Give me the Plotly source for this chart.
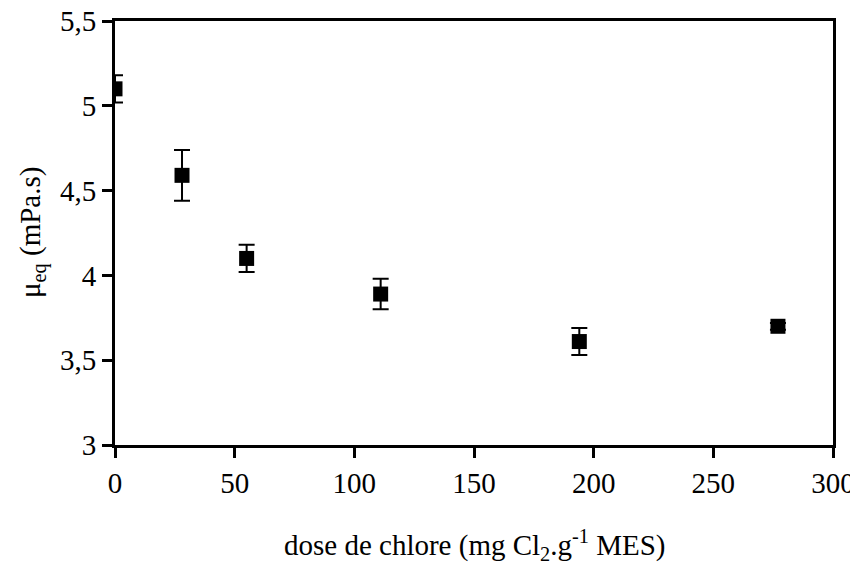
import plotly.graph_objects as go

# dose de chlore (mg Cl2/g MES) et viscosité à l'équilibre (mPa.s)
dose = [0, 28, 55, 111, 194, 277]
mu_eq = [5.10, 4.59, 4.10, 3.89, 3.61, 3.70]
err = [0.08, 0.15, 0.08, 0.09, 0.08, 0.02]

x_ticks = [0, 50, 100, 150, 200, 250, 300]
y_ticks = [3, 3.5, 4, 4.5, 5, 5.5]

x_title = "dose de chlore (mg Cl<sub>2</sub>.g<sup>-1</sup> MES)"
y_title = "μ<sub>eq</sub> (mPa.s)"

fig = go.Figure()
fig.add_trace(go.Scatter(
    x=dose, y=mu_eq,
    mode="markers",
    marker=dict(symbol="square", size=15, color="black"),
    error_y=dict(type="data", array=err, visible=True,
                 color="black", thickness=2, width=8),
    showlegend=False,
))

serif = "Liberation Serif, Times New Roman, serif"
txt = dict(family=serif, size=29, color="black")

axis_style = dict(
    showline=True, linecolor="black", linewidth=3, mirror=True,
    ticks="outside", ticklen=10, tickwidth=2.5, tickcolor="black",
    showgrid=False, zeroline=False, automargin=False,
    tickfont=txt, ticklabeloverflow="allow",
)

fig.update_layout(
    width=858, height=562,
    margin=dict(l=107, r=33, t=13, b=125),
    plot_bgcolor="white", paper_bgcolor="white",
    separators=", ",
    font=txt,
    xaxis=dict(range=[0, 300], tickvals=x_ticks, **axis_style),
    yaxis=dict(range=[3, 5.5], tickvals=y_ticks, **axis_style),
)

# axis titles as annotations so they sit where the original puts them
fig.add_annotation(text=x_title, xref="paper", yref="paper", x=0.5, y=0,
                   xanchor="center", yanchor="middle", yshift=-100,
                   showarrow=False, font=txt)
fig.add_annotation(text=y_title, xref="paper", yref="paper", x=0, y=0.5,
                   xanchor="center", yanchor="middle", xshift=-83,
                   textangle=-90, showarrow=False, font=txt)

fig.write_html("out.html")
